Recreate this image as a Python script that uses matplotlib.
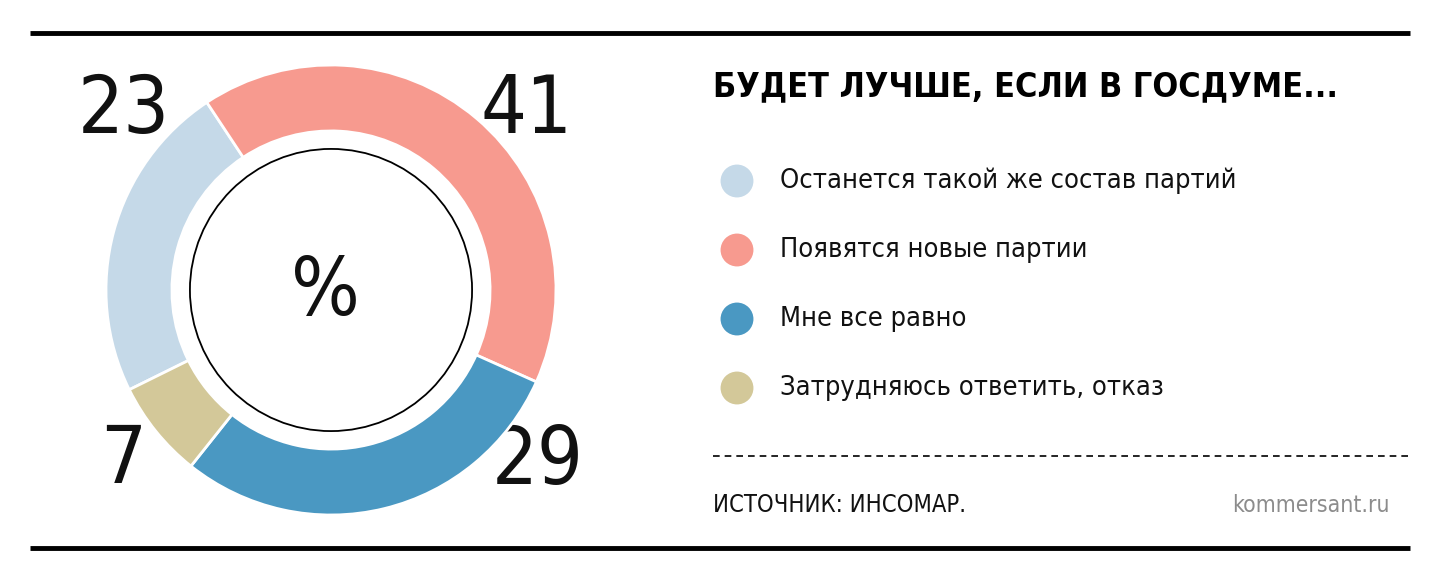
import matplotlib
matplotlib.use('Agg')
import matplotlib.pyplot as plt
from matplotlib.patches import Circle

# данные
categories = ['Останется такой же состав партий', 'Появятся новые партии',
              'Мне все равно', 'Затрудняюсь ответить, отказ']
values = [23, 41, 29, 7]
colors = ['#c5d9e8', '#f79a8f', '#4a98c2', '#d3c899']
title = 'БУДЕТ ЛУЧШЕ, ЕСЛИ В ГОСДУМЕ...'
source = 'ИСТОЧНИК: ИНСОМАР.'
site = 'kommersant.ru'

plt.rcParams['font.family'] = ['DejaVu Sans']
plt.rcParams['font.stretch'] = 'condensed'

W, H = 1440, 582
fig = plt.figure(figsize=(W / 100, H / 100), dpi=100)
fig.patch.set_facecolor('white')

# фон в пикселях
bg = fig.add_axes([0, 0, 1, 1])
bg.set_xlim(0, W)
bg.set_ylim(H, 0)
bg.axis('off')

bg.plot([30, 1410], [33, 33], color='black', lw=3.5, solid_capstyle='butt')
bg.plot([30, 1410], [548, 548], color='black', lw=3.5, solid_capstyle='butt')
bg.plot([713, 1408], [456, 456], color='black', lw=1.2, dashes=(4, 3))

bg.text(713, 87, title, fontsize=24.5, fontweight='bold', va='center', ha='left')

ys = [181, 250, 319, 388]
bg.scatter([737] * len(categories), ys, s=560, c=colors, edgecolors='none')
for y, cat in zip(ys, categories):
    bg.text(780, y, cat, fontsize=19.5, va='center', ha='left', color='#111111')

bg.text(713, 505, source, fontsize=17, va='center', ha='left', color='#111111')
bg.text(1390, 505, site, fontsize=16.5, va='center', ha='right', color='#8c8c8c')

# подписи значений
big = dict(fontsize=58, va='center', ha='center', color='#111111')
bg.text(124, 111, str(values[0]), **big)
bg.text(527, 111, str(values[1]), **big)
bg.text(538, 462, str(values[2]), **big)
bg.text(123, 461, str(values[3]), **big)
bg.text(325, 293, '%', **big)

# кольцевая диаграмма
cx, cy, r = 331, 290, 225
ax = fig.add_axes([(cx - r) / W, (H - cy - r) / H, 2 * r / W, 2 * r / H])
ax.pie(values, colors=colors, startangle=206.3, counterclock=False,
       radius=1, wedgeprops=dict(width=0.293, edgecolor='white', linewidth=2))
ax.add_patch(Circle((0, 0), 0.627, facecolor='none', edgecolor='black', lw=1.3))
ax.set_xlim(-1, 1)
ax.set_ylim(-1, 1)
ax.set_aspect('equal')
ax.axis('off')

fig.savefig('out.png', dpi=100, facecolor='white')
